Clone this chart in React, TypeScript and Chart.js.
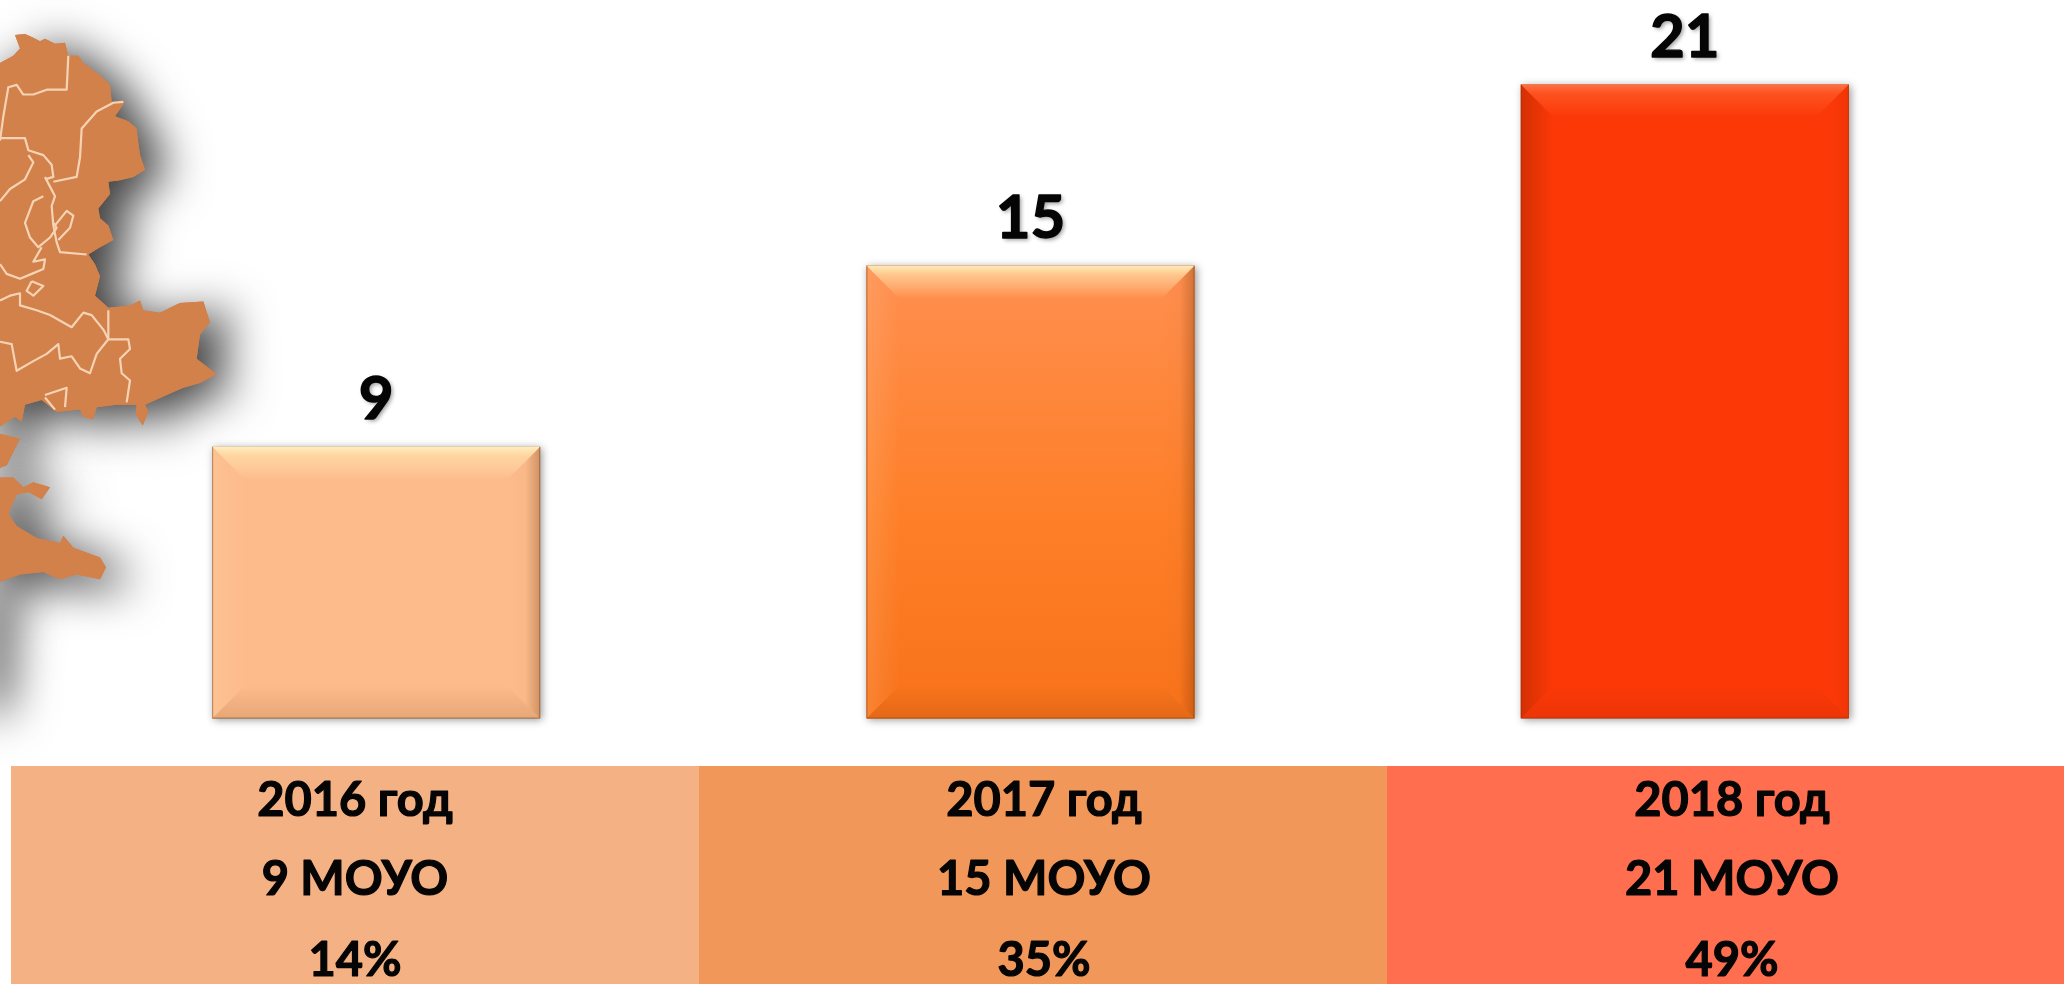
import React, { useEffect, useRef } from "react";
import { Chart, registerables } from "chart.js";

Chart.register(...registerables);

const years = ["2016 год", "2017 год", "2018 год"];
const counts = [9, 15, 21];
const moyoLabels = ["9 МОУО", "15 МОУО", "21 МОУО"];
const shareLabels = ["14%", "35%", "49%"];
const barColors = ["#fdbb8b", "#fd8a3e", "#fc3807"];
const bandColors = ["#f4b183", "#f19759", "#ff6e4e"];

const FONT = "Lato, Carlito, sans-serif";
const INK = "#050505";
const MAP_COLOR = "#d2814b";
const MAP_LINE = "#f6d3b4";

// Decorative map silhouette, in the units of a 3 x 2.063 enlargement of the page.
const mapShapes: number[][][] = [
  [[-80,130],[0,130],[40,115],[60,100],[45,72],[75,70],[100,78],[120,85],[135,80],[150,85],[165,90],[195,88],[205,115],[235,115],[250,130],[270,140],[300,155],[330,175],[335,210],[375,210],[345,240],[385,250],[410,265],[415,295],[420,320],[435,350],[400,365],[360,372],[325,375],[330,400],[295,430],[300,450],[325,465],[340,495],[300,510],[265,525],[285,545],[300,570],[285,610],[325,635],[390,630],[420,620],[430,640],[480,645],[510,635],[540,625],[610,622],[630,665],[600,690],[590,740],[650,772],[600,790],[550,800],[500,815],[435,835],[445,850],[428,878],[408,855],[410,835],[350,835],[290,840],[280,865],[250,860],[240,845],[170,850],[125,825],[75,835],[65,870],[45,860],[0,880],[-80,880]],
  [[-80,895],[0,895],[60,905],[20,960],[0,965],[-80,965]],
  [[-80,985],[0,985],[40,985],[70,1005],[100,995],[150,1005],[125,1030],[85,1015],[50,1020],[25,1060],[50,1085],[110,1110],[180,1120],[190,1105],[220,1130],[300,1150],[318,1170],[300,1195],[230,1185],[180,1195],[130,1180],[60,1185],[0,1200],[-80,1200]],
  [[-120,1200],[-20,1200],[-30,1330],[-40,1450],[-120,1450]],
];
const mapLines: number[][][] = [
  [[0,290],[10,240],[25,180],[50,175],[70,195],[100,195],[140,185],[200,185],[205,115]],
  [[0,285],[50,285],[75,285],[85,310],[130,320],[155,340],[160,365],[135,370]],
  [[160,375],[230,365],[240,325],[245,265],[290,230],[340,212],[370,210]],
  [[85,320],[100,335],[75,370],[30,390],[0,415]],
  [[135,365],[150,385],[165,405],[155,425],[160,465],[170,500],[180,520],[260,525]],
  [[130,405],[100,415],[75,460],[90,490],[115,510],[150,490],[170,470],[160,460]],
  [[165,465],[200,435],[220,445],[210,470],[175,495]],
  [[125,510],[100,540],[135,535],[130,555],[95,565],[60,575],[20,565],[0,545]],
  [[95,580],[130,590],[100,610],[80,600],[95,580]],
  [[0,620],[30,610],[60,605],[60,630],[110,640],[150,650],[215,675],[250,645],[275,650],[310,680],[325,700]],
  [[325,640],[325,700],[290,730],[270,770],[240,760],[215,735],[180,740],[175,710],[140,730],[100,745],[50,765],[35,710],[0,705]],
  [[325,700],[385,700],[390,720],[360,740],[365,770],[390,785],[380,830]],
  [[135,815],[200,800],[195,840]],
  [[135,820],[165,845]],
];

function tracePath(ctx: CanvasRenderingContext2D, pts: number[][], close: boolean) {
  ctx.beginPath();
  pts.forEach(([x, y], i) => {
    const px = x / 3;
    const py = y / 2.063;
    if (i === 0) ctx.moveTo(px, py);
    else ctx.lineTo(px, py);
  });
  if (close) ctx.closePath();
}

const backdrop = {
  id: "backdrop",
  beforeDraw(chart: any) {
    const ctx: CanvasRenderingContext2D = chart.ctx;
    ctx.save();
    ctx.fillStyle = "#ffffff";
    ctx.fillRect(0, 0, chart.width, chart.height);
    ctx.shadowColor = "rgba(0,0,0,0.75)";
    ctx.shadowBlur = 46;
    ctx.shadowOffsetX = 22;
    ctx.shadowOffsetY = 10;
    ctx.fillStyle = MAP_COLOR;
    mapShapes.forEach((s) => {
      tracePath(ctx, s, true);
      ctx.fill();
    });
    ctx.shadowColor = "transparent";
    mapShapes.forEach((s) => {
      tracePath(ctx, s, true);
      ctx.fill();
    });
    ctx.strokeStyle = MAP_LINE;
    ctx.lineWidth = 2.2;
    ctx.lineJoin = "round";
    mapLines.forEach((l) => {
      tracePath(ctx, l, false);
      ctx.stroke();
    });
    ctx.restore();
  },
  beforeDatasetsDraw(chart: any) {
    const ctx: CanvasRenderingContext2D = chart.ctx;
    ctx.save();
    ctx.shadowColor = "rgba(0,0,0,0.4)";
    ctx.shadowBlur = 8;
    ctx.shadowOffsetX = 2;
    ctx.shadowOffsetY = 1;
    ctx.fillStyle = "#888888";
    chart.getDatasetMeta(0).data.forEach((bar: any) => {
      ctx.fillRect(bar.x - bar.width / 2, bar.y, bar.width, bar.base - bar.y);
    });
    ctx.restore();
  },
};

function facet(
  ctx: CanvasRenderingContext2D,
  pts: number[][],
  grad: number[],
  stops: [number, string][],
) {
  const g = ctx.createLinearGradient(grad[0], grad[1], grad[2], grad[3]);
  stops.forEach(([o, c]) => g.addColorStop(o, c));
  ctx.fillStyle = g;
  ctx.beginPath();
  pts.forEach(([x, y], i) => (i ? ctx.lineTo(x, y) : ctx.moveTo(x, y)));
  ctx.closePath();
  ctx.fill();
}

const bevel = {
  id: "bevel",
  afterDatasetsDraw(chart: any) {
    const ctx: CanvasRenderingContext2D = chart.ctx;
    const B = 33;
    chart.getDatasetMeta(0).data.forEach((bar: any, i: number) => {
      const l = bar.x - bar.width / 2;
      const r = bar.x + bar.width / 2;
      const t = bar.y;
      const b = bar.base;
      const hot = i === 2;
      ctx.save();
      if (i === 1) {
        const g = ctx.createLinearGradient(0, t, 0, b);
        g.addColorStop(0, "#ff8f50");
        g.addColorStop(0.55, "#fe7f28");
        g.addColorStop(1, "#f8721a");
        ctx.fillStyle = g;
        ctx.fillRect(l, t, r - l, b - t);
      }
      facet(ctx, [[l, t], [r, t], [r - B, t + B], [l + B, t + B]], [0, t, 0, t + B], [
        [0, hot ? "rgba(255,140,90,0.7)" : "rgba(255,240,190,0.95)"],
        [0.3, hot ? "rgba(255,110,60,0.45)" : "rgba(255,225,170,0.65)"],
        [1, hot ? "rgba(255,110,60,0)" : "rgba(255,235,190,0)"],
      ]);
      facet(ctx, [[l, t], [l + B, t + B], [l + B, b - B], [l, b]], [l, 0, l + B, 0], [
        [0, hot ? "rgba(170,40,0,0.5)" : "rgba(255,230,190,0.15)"],
        [1, hot ? "rgba(170,40,0,0)" : "rgba(255,230,190,0)"],
      ]);
      facet(ctx, [[r, t], [r - B, t + B], [r - B, b - B], [r, b]], [r - B, 0, r, 0], [
        [0, hot ? "rgba(170,40,0,0)" : "rgba(90,40,0,0)"],
        [0.55, hot ? "rgba(170,40,0,0.01)" : "rgba(90,40,0,0.02)"],
        [1, hot ? "rgba(170,40,0,0.15)" : "rgba(90,40,0,0.28)"],
      ]);
      facet(ctx, [[l, b], [r, b], [r - B, b - B], [l + B, b - B]], [0, b - B, 0, b], [
        [0, hot ? "rgba(170,40,0,0)" : "rgba(110,50,0,0)"],
        [1, hot ? "rgba(170,40,0,0.2)" : "rgba(110,50,0,0.15)"],
      ]);
      ctx.strokeStyle = hot ? "rgba(150,40,0,0.4)" : "rgba(120,60,20,0.45)";
      ctx.lineWidth = 1;
      ctx.beginPath();
      ctx.moveTo(l + 0.5, t);
      ctx.lineTo(l + 0.5, b - 0.5);
      ctx.lineTo(r - 0.5, b - 0.5);
      ctx.lineTo(r - 0.5, t);
      ctx.stroke();
      ctx.restore();

      ctx.save();
      ctx.fillStyle = INK;
      ctx.strokeStyle = INK;
      ctx.lineWidth = 1.4;
      ctx.lineJoin = "round";
      ctx.font = `bold 60px ${FONT}`;
      ctx.textAlign = "center";
      ctx.textBaseline = "alphabetic";
      ctx.shadowColor = "rgba(0,0,0,0.4)";
      ctx.shadowBlur = 4;
      ctx.shadowOffsetX = 2;
      ctx.shadowOffsetY = 2;
      ctx.fillText(String(counts[i]), bar.x, t - 28);
      ctx.shadowColor = "transparent";
      ctx.strokeText(String(counts[i]), bar.x, t - 28);
      ctx.restore();
    });
  },
};

const table = {
  id: "table",
  afterDraw(chart: any) {
    const ctx: CanvasRenderingContext2D = chart.ctx;
    const edges = [11, 699, 1387, 2064];
    const centers = [355, 1044, 1732];
    const baselines = [816, 895, 976];
    const rows = [years, moyoLabels, shareLabels];
    ctx.save();
    bandColors.forEach((c, i) => {
      ctx.fillStyle = c;
      ctx.fillRect(edges[i], 766, edges[i + 1] - edges[i], 218);
    });
    ctx.fillStyle = INK;
    ctx.strokeStyle = INK;
    ctx.lineWidth = 1.2;
    ctx.lineJoin = "round";
    ctx.font = `bold 47px ${FONT}`;
    ctx.textAlign = "center";
    ctx.textBaseline = "alphabetic";
    rows.forEach((row, r) => {
      row.forEach((text, i) => {
        ctx.fillText(text, centers[i], baselines[r]);
        ctx.strokeText(text, centers[i], baselines[r]);
      });
    });
    ctx.restore();
  },
};

export default function App() {
  const ref = useRef<HTMLCanvasElement>(null);
  useEffect(() => {
    const chart = new Chart(ref.current as HTMLCanvasElement, {
      type: "bar",
      data: {
        labels: years,
        datasets: [
          {
            data: counts,
            backgroundColor: barColors,
            barPercentage: 1,
            categoryPercentage: 0.5013,
          },
        ],
      },
      options: {
        responsive: false,
        animation: false,
        layout: { padding: { left: 49, right: 52, top: 0, bottom: 265.5 } },
        plugins: { legend: { display: false }, tooltip: { enabled: false }, title: { display: false } },
        scales: {
          x: { display: false },
          y: { display: false, min: 0, max: 23.8 },
        },
      },
      plugins: [backdrop, bevel, table],
    });
    return () => chart.destroy();
  }, []);
  return (
    <canvas
      ref={ref}
      width={2064}
      height={984}
      style={{ position: "absolute", left: 0, top: 0, display: "block" }}
    />
  );
}
